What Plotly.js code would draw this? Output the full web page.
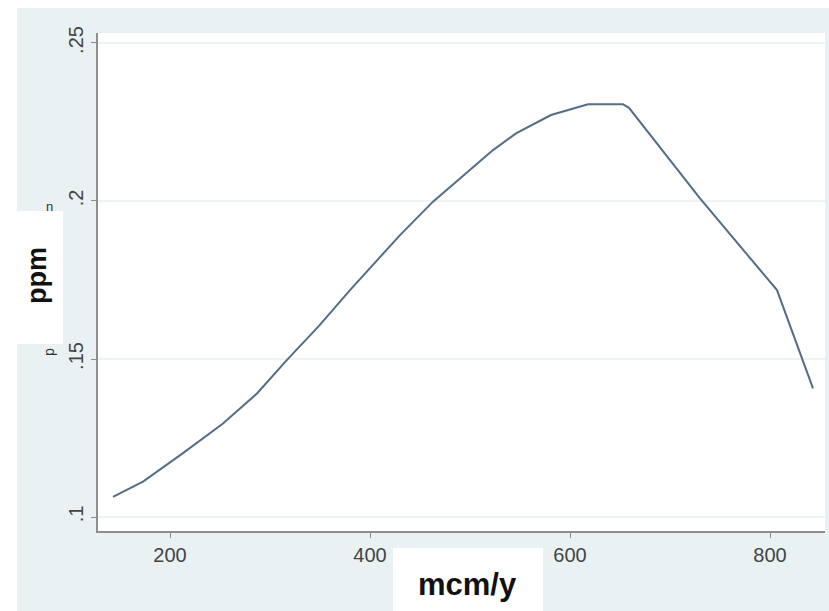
<!DOCTYPE html>
<html>
<head>
<meta charset="utf-8">
<script src="https://cdn.plot.ly/plotly-3.0.1.min.js"></script>
<style>
  html, body { margin: 0; padding: 0; background: #ffffff; width: 829px; height: 611px; overflow: hidden; }
  #chart { position: absolute; left: 17px; top: 8px; width: 812px; height: 603px; }
</style>
</head>
<body>
<div id="chart"></div>
<script>
// Flow (mcm/y) against concentration (ppm)
const mcmPerYear = [143, 173, 213, 253, 287, 317, 349, 380, 430, 463, 492, 523, 546, 563, 581, 618, 653, 659, 730, 807, 843];
const ppmValues  = [0.1064, 0.1112, 0.1202, 0.1296, 0.1391, 0.1497, 0.1605, 0.1718, 0.1892, 0.1998, 0.2077,
                    0.2161, 0.2214, 0.2241, 0.2272, 0.2306, 0.2306, 0.2295, 0.2008, 0.1718, 0.1407];

const xTickVals = [200, 400, 600, 800];
const xTickText = ['200', '400', '600', '800'];
const yTickVals = [0.1, 0.15, 0.2, 0.25];
const yTickText = ['.1', '.15', '.2', '.25'];

const bg = '#eaf1f3';
const axisGray = '#8e8e8e';
const tickFont = { family: 'Liberation Sans, Arial, sans-serif', size: 20, color: '#444444' };

// plot-area pixel geometry inside the page, used to place the label boxes
const L = 98, T = 33, R = 825, B = 531;
const px = x => (x - L) / (R - L);
const py = y => (B - y) / (B - T);

const trace = {
  x: mcmPerYear,
  y: ppmValues,
  type: 'scatter',
  mode: 'lines',
  line: { color: '#546d86', width: 2 },
  hoverinfo: 'skip'
};

const layout = {
  width: 812,
  height: 603,
  margin: { l: 81, r: 4, t: 25, b: 80, pad: 0 },
  paper_bgcolor: bg,
  plot_bgcolor: '#ffffff',
  showlegend: false,
  xaxis: {
    range: [128, 855],
    tickmode: 'array', tickvals: xTickVals, ticktext: xTickText,
    ticks: 'outside', ticklen: 5, tickwidth: 1, tickcolor: axisGray,
    showline: true, linecolor: axisGray, linewidth: 2,
    showgrid: false, zeroline: false,
    tickfont: tickFont
  },
  yaxis: {
    range: [0.09557, 0.25316],
    tickmode: 'array', tickvals: yTickVals, ticktext: yTickText,
    tickangle: -90,
    ticks: 'outside', ticklen: 5, tickwidth: 1, tickcolor: axisGray,
    showline: true, linecolor: axisGray, linewidth: 2,
    showgrid: true, gridcolor: '#edf3f5', gridwidth: 2,
    zeroline: false,
    tickfont: tickFont
  },
  shapes: [
    { type: 'rect', xref: 'paper', yref: 'paper', layer: 'above',
      x0: px(-20), x1: px(63), y0: py(344), y1: py(211),
      fillcolor: '#ffffff', line: { width: 0 } },
    { type: 'rect', xref: 'paper', yref: 'paper', layer: 'above',
      x0: px(393), x1: px(543), y0: py(620), y1: py(548),
      fillcolor: '#ffffff', line: { width: 0 } }
  ],
  annotations: [
    { text: '<b>ppm</b>', xref: 'paper', yref: 'paper', x: px(37), y: py(276),
      xanchor: 'center', yanchor: 'middle', textangle: -90, showarrow: false,
      font: { family: 'Liberation Sans, Arial, sans-serif', size: 27, color: '#111111' } },
    { text: '<b>mcm/y</b>', xref: 'paper', yref: 'paper', x: px(467), y: py(584),
      xanchor: 'center', yanchor: 'middle', showarrow: false,
      font: { family: 'Liberation Sans, Arial, sans-serif', size: 31, color: '#111111' } },
    { text: 'n', xref: 'paper', yref: 'paper', x: px(49), y: py(206),
      xanchor: 'center', yanchor: 'middle', showarrow: false,
      font: { family: 'Liberation Sans, Arial, sans-serif', size: 13, color: '#333333' } },
    { text: 'p', xref: 'paper', yref: 'paper', x: px(49), y: py(352),
      xanchor: 'center', yanchor: 'middle', textangle: -90, showarrow: false,
      font: { family: 'Liberation Sans, Arial, sans-serif', size: 14, color: '#333333' } }
  ]
};

Plotly.newPlot('chart', [trace], layout, { staticPlot: true, displayModeBar: false });
</script>
</body>
</html>
